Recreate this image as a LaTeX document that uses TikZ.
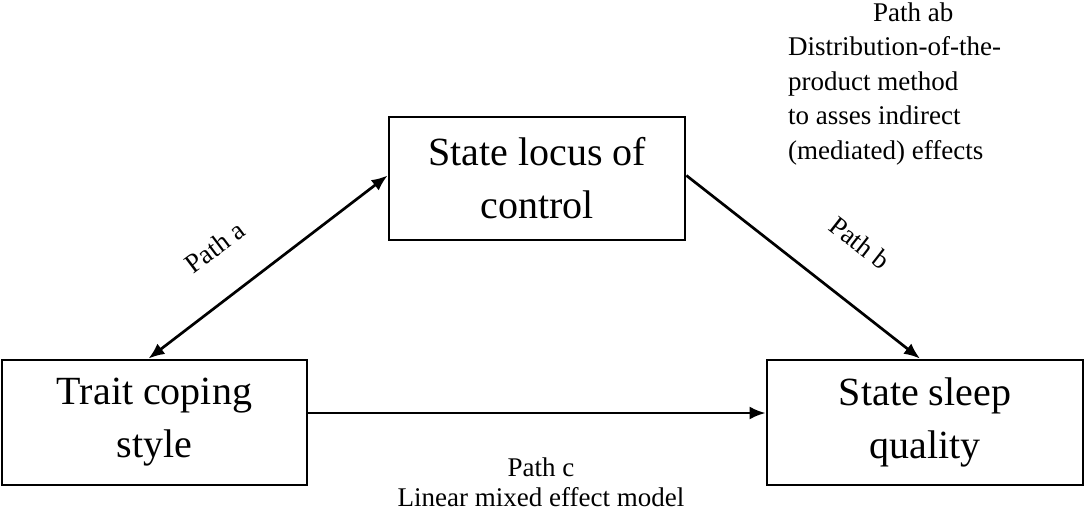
\documentclass[tikz,border=0pt]{standalone}
\usepackage{fontspec}
\setmainfont{Liberation Serif}
\usetikzlibrary{arrows.meta}
\begin{document}
\begin{tikzpicture}[x=1pt,y=-1pt,
  box/.style={draw,line width=2.8pt,align=center,inner sep=0pt,
    font=\fontsize{40}{53}\selectfont},
  tip/.style={Latex[length=16pt,width=13pt]},
  conn/.style={line width=2.7pt,-{Latex[length=16pt,width=13pt]}},
  lbl/.style={font=\fontsize{27}{34.5}\selectfont,inner sep=0pt}]
\useasboundingbox (0,0) rectangle (1085,517);
\node[box,minimum width=305pt,minimum height=125pt] (L) at (154.5,422.5) {Trait coping\\style};
\node[box,minimum width=296pt,minimum height=123pt] (T) at (537,178.5) {State locus of\\control};
\node[box,minimum width=316pt,minimum height=125pt] (R) at (925,422.5) {State sleep\\quality};
\draw[conn,{Latex[length=16pt,width=13pt]}-{Latex[length=16pt,width=13pt]}] ([xshift=-6pt]L.north) -- ([yshift=3pt]T.west);
\draw[conn] ([yshift=3pt]T.east) -- ([xshift=-5pt]R.north);
\draw[conn] ([yshift=9.5pt]L.east) -- ([yshift=9.5pt]R.west);
\node[lbl,rotate=37] (la) at (215,247) {Path a};
\node[lbl,rotate=-38] (lb) at (860,243) {Path b};
\node[lbl,align=center,font=\fontsize{27}{30}\selectfont] (lc) at (541,482) {Path c\\Linear mixed effect model};
\node[lbl,align=left,anchor=west] (lab) at (788,84) {\hspace*{85pt}Path ab\\Distribution-of-the-\\product method\\to asses indirect\\(mediated) effects};
\end{tikzpicture}
\end{document}
